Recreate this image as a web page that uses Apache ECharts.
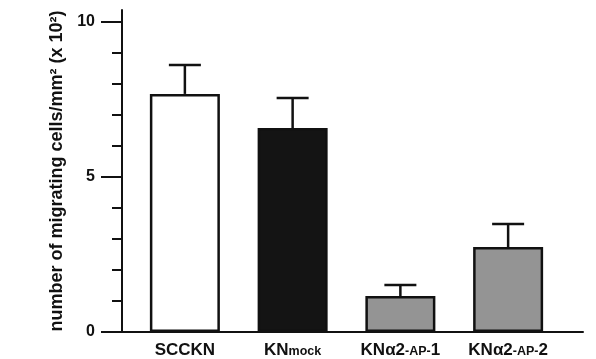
<!DOCTYPE html>
<html>
<head>
<meta charset="utf-8">
<script src="https://cdn.jsdelivr.net/npm/echarts@6/dist/echarts.min.js"></script>
<style>html,body{margin:0;padding:0;background:#fff}#c{width:596px;height:359px}</style>
</head>
<body>
<div id="c"></div>
<script>
var categories = ['SCCKN', 'KNmock', 'KNα2-AP-1', 'KNα2-AP-2'];
var categoryLabels = ['SCCKN', '{a|KN}{s|mock}', '{a|KN}{g|α2}{s|-AP-}{a|1}', '{a|KN}{g|α2}{s|-AP-}{a|2}'];
var meanValues = [7.68, 6.58, 1.16, 2.74];
var errorTops = [8.61, 7.55, 1.52, 3.48];
var barColors = ['#ffffff', '#141414', '#949494', '#949494'];
var yTicks = [0, 5, 10];

var chart = echarts.init(document.getElementById('c'));
var font = '"Liberation Sans", Arial, sans-serif';
chart.setOption({
  animation: false,
  backgroundColor: '#ffffff',
  grid: [
    {left: 122, right: 13, top: 10, bottom: 27},
    {left: 131, right: 34, top: 22, bottom: 27}
  ],
  xAxis: [
    {gridIndex: 0, type: 'value', min: 0, max: 1,
     axisLine: {show: true, lineStyle: {color: '#111', width: 2}},
     axisTick: {show: false}, axisLabel: {show: false}, splitLine: {show: false}},
    {gridIndex: 1, type: 'category', data: categories,
     axisLine: {show: false}, axisTick: {show: false}, splitLine: {show: false},
     axisLabel: {
       interval: 0, hideOverlap: false,
       margin: 10, color: '#111', fontFamily: font, fontWeight: 'bold', fontSize: 17,
       formatter: function (v, i) { return categoryLabels[i]; },
       rich: {
         a: {fontFamily: font, fontWeight: 'bold', fontSize: 17, color: '#111'},
         g: {fontFamily: font, fontWeight: 'bold', fontSize: 17, color: '#111'},
         s: {fontFamily: font, fontWeight: 'bold', fontSize: 12.5, color: '#111', padding: [3, 0, 0, 0]}
       }
     }}
  ],
  yAxis: [
    {gridIndex: 0, type: 'value', min: 0, max: 10.4,
     axisLine: {show: true, lineStyle: {color: '#111', width: 2}},
     axisTick: {show: false}, axisLabel: {show: false}, splitLine: {show: false}},
    {gridIndex: 1, type: 'value', min: 0, max: 10, interval: 5, offset: 9,
     axisLine: {show: false},
     axisTick: {show: true, length: 21, lineStyle: {color: '#111', width: 2}},
     minorTick: {show: true, splitNumber: 5, length: 10, lineStyle: {color: '#111', width: 2}},
     splitLine: {show: false},
     axisLabel: {margin: 27, color: '#111', fontFamily: font, fontWeight: 'bold', fontSize: 16,
       formatter: function (v) { return yTicks.indexOf(v) >= 0 ? String(v) : ''; }},
     name: 'number of migrating cells/mm² (x 10²)',
     nameLocation: 'middle', nameGap: 55, nameRotate: 90,
     nameTextStyle: {color: '#111', fontFamily: font, fontWeight: 'bold', fontSize: 18, padding: [0, 0, 0, 12]}}
  ],
  series: [
    {type: 'bar', xAxisIndex: 1, yAxisIndex: 1, barWidth: 70,
     data: meanValues.map(function (v, i) {
       return {value: v, itemStyle: {color: barColors[i]}};
     }),
     itemStyle: {borderColor: '#111', borderWidth: 2.5}},
    {type: 'custom', xAxisIndex: 1, yAxisIndex: 1, z: 1,
     data: meanValues.map(function (v, i) { return [i, v, errorTops[i]]; }),
     renderItem: function (params, api) {
       var base = api.coord([api.value(0), api.value(1)]);
       var top = api.coord([api.value(0), api.value(2)]);
       var hw = 16;
       return {type: 'group', children: [
         {type: 'line', shape: {x1: base[0], y1: base[1], x2: top[0], y2: top[1]},
          style: {stroke: '#111', lineWidth: 2.5}},
         {type: 'line', shape: {x1: top[0] - hw, y1: top[1], x2: top[0] + hw, y2: top[1]},
          style: {stroke: '#111', lineWidth: 2.5}}
       ]};
     }}
  ]
});
</script>
</body>
</html>
